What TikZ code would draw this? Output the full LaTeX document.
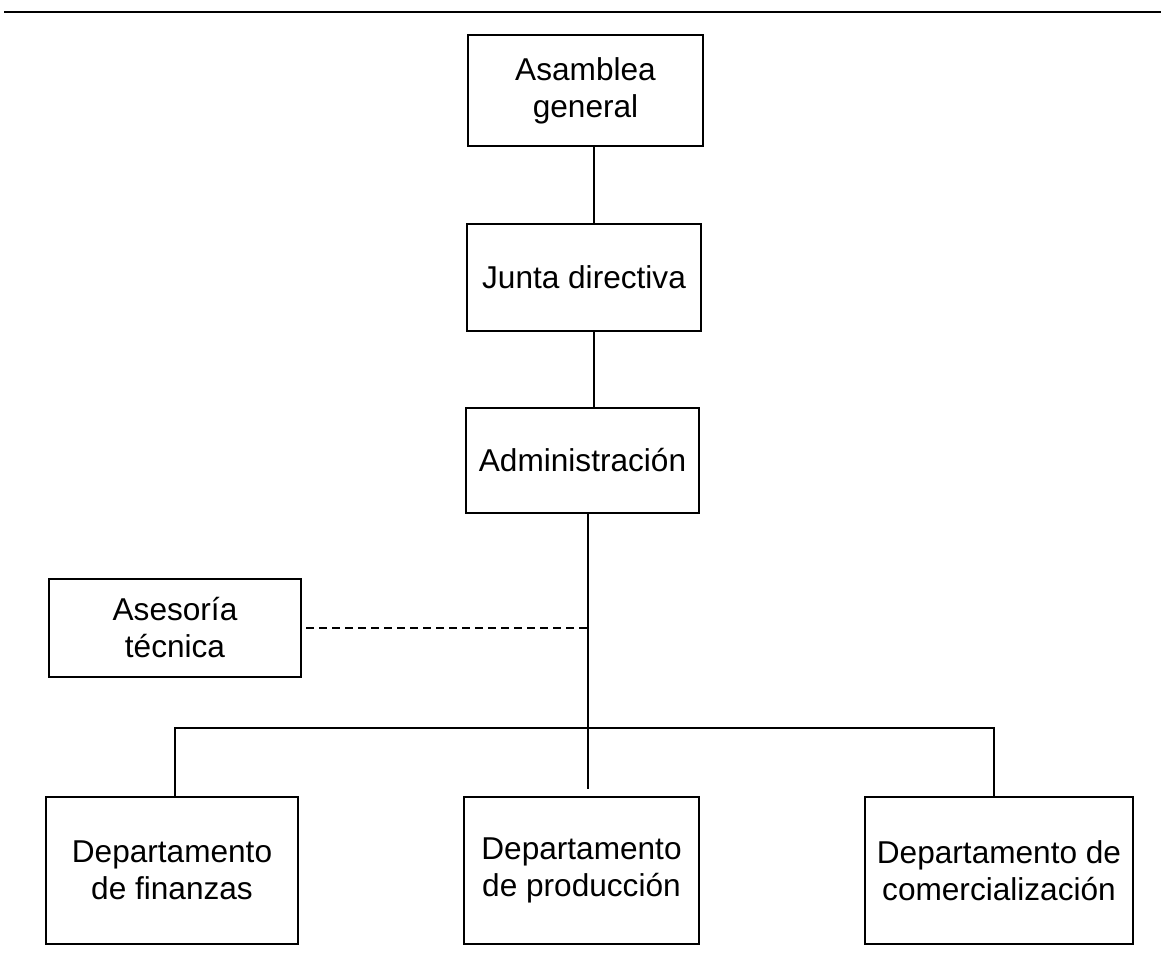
\documentclass[tikz,border=0pt]{standalone}
\usepackage{fontspec}
\setmainfont{Liberation Sans}
\begin{document}
\begin{tikzpicture}[x=1pt,y=-1pt,
  box/.style={draw,line width=2pt,inner sep=0pt,align=center,
    font=\fontsize{31.6}{37}\selectfont},
  link/.style={line width=2pt},
  adv/.style={line width=1.6pt,dash pattern=on 8pt off 5pt}]
\useasboundingbox (0,0) rectangle (1161,958);
\draw[line width=2pt] (4,12) -- (1161,12);
\node[box,minimum width=235pt,minimum height=111pt] (asamblea) at (585.5,90.5) {Asamblea\\general};
\node[box,minimum width=234pt,minimum height=107pt] (junta) at (584,277.5) {Junta directiva};
\node[box,minimum width=233pt,minimum height=105pt] (admin) at (582.5,460.5) {Administración};
\node[box,minimum width=252pt,minimum height=98pt] (ases) at (175,628) {Asesoría\\técnica};
\node[box,minimum width=252pt,minimum height=147pt] (fin) at (172,870.5) {Departamento\\de finanzas};
\node[box,minimum width=235pt,minimum height=147pt] (prod) at (581.5,870.5) {Departamento\\de producción};
\node[box,minimum width=268pt,minimum height=147pt] (com) at (999,870.5) {Departamento de\\comercialización};
\coordinate (spineA) at (594,0);
\coordinate (spineB) at (588,0);
\coordinate (mainend) at (588,789);
\coordinate (bus) at (0,728);
\coordinate (dropF) at (175,0);
\coordinate (dropC) at (994,0);
\draw[link] (asamblea.south -| spineA) -- (junta.north -| spineA);
\draw[link] (junta.south -| spineA) -- (admin.north -| spineA);
\draw[link] (admin.south -| spineB) -- (mainend);
\draw[link] (fin.north -| dropF) -- (dropF |- bus) -- (dropC |- bus) -- (com.north -| dropC);
\draw[adv] ([xshift=4pt]ases.east) -- (ases.east -| spineB);
\end{tikzpicture}
\end{document}
